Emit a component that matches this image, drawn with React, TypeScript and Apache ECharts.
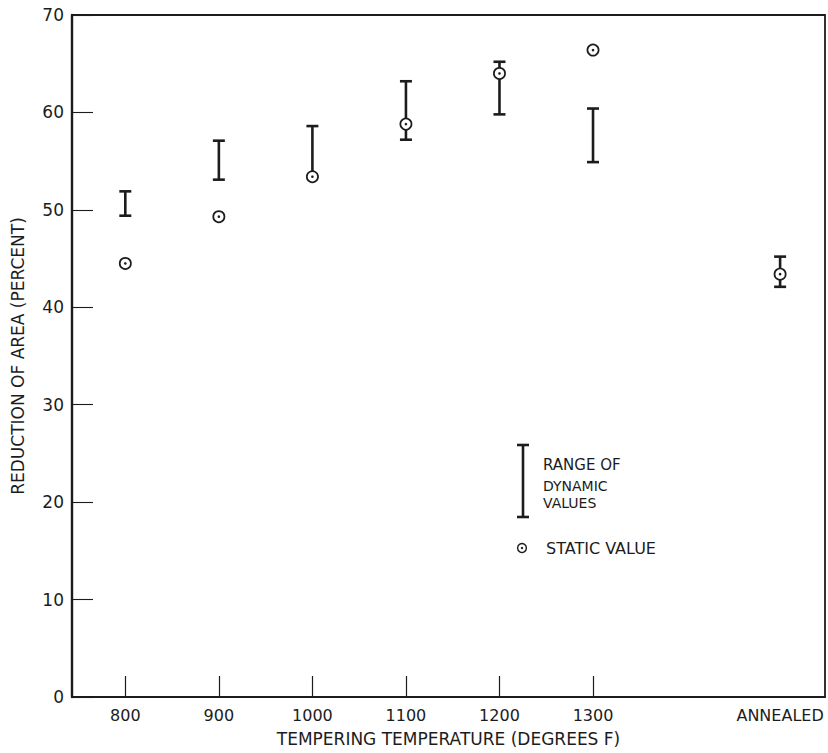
import React, { useEffect, useRef } from "react";
import * as echarts from "echarts";

// Data
const temperatures = [800, 900, 1000, 1100, 1200, 1300, 1500];
const categoryLabels = ["800", "900", "1000", "1100", "1200", "1300", "ANNEALED"];
const dynamicLow = [49.4, 53.1, 53.4, 57.2, 59.8, 54.9, 42.1];
const dynamicHigh = [51.9, 57.1, 58.6, 63.2, 65.2, 60.4, 45.2];
const staticValue = [44.5, 49.3, 53.4, 58.8, 64.0, 66.4, 43.4];
const tickTemperatures = [800, 900, 1000, 1100, 1200, 1300];

const INK = "#1c1c1c";
const FONT = "DejaVu Sans";

export default function App() {
  const ref = useRef<HTMLDivElement>(null);

  useEffect(() => {
    if (!ref.current) return;
    const chart = echarts.init(ref.current, null, { renderer: "svg" });

    const rangeData = temperatures.map((t, i) => [t, dynamicLow[i], dynamicHigh[i]]);
    const staticData = temperatures.map((t, i) => [t, staticValue[i]]);

    const legendText = (text: string, x: number, y: number, size: number) => ({
      type: "text",
      x,
      y,
      style: {
        text,
        font: `${size}px "${FONT}"`,
        fill: INK,
        align: "left",
        verticalAlign: "middle",
        textVerticalAlign: "middle",
      },
    });

    const option: any = {
      animation: false,
      backgroundColor: "#ffffff",
      grid: {
        left: 72,
        right: 3,
        top: 15,
        bottom: 56,
        show: true,
        borderColor: INK,
        borderWidth: 1.8,
        backgroundColor: "transparent",
      },
      xAxis: {
        type: "value",
        min: 743,
        max: 1548,
        name: "TEMPERING TEMPERATURE (DEGREES F)",
        nameLocation: "middle",
        nameGap: 33,
        nameTextStyle: { fontFamily: FONT, fontSize: 17, color: INK },
        axisLine: { show: true, onZero: false, lineStyle: { color: INK, width: 2.2 } },
        axisTick: {
          show: true,
          inside: true,
          length: 21,
          customValues: tickTemperatures,
          lineStyle: { color: INK, width: 1.2 },
        },
        axisLabel: {
          show: true,
          customValues: temperatures,
          margin: 10,
          fontFamily: FONT,
          fontSize: 16,
          color: INK,
          formatter: (v: number) => {
            const idx = temperatures.indexOf(v);
            return idx >= 0 ? categoryLabels[idx] : "";
          },
        },
        splitLine: { show: false },
      },
      yAxis: {
        type: "value",
        min: 0,
        max: 70,
        interval: 10,
        name: "REDUCTION OF AREA (PERCENT)",
        nameLocation: "middle",
        nameGap: 46,
        nameTextStyle: { fontFamily: FONT, fontSize: 17, color: INK },
        axisLine: { show: true, lineStyle: { color: INK, width: 2.4 } },
        axisTick: { show: true, inside: true, length: 21, lineStyle: { color: INK, width: 1.1 } },
        axisLabel: { margin: 8, fontFamily: FONT, fontSize: 17, color: INK },
        splitLine: { show: false },
      },
      series: [
        {
          type: "custom",
          name: "Range of dynamic values",
          data: rangeData,
          encode: { x: 0, y: [1, 2] },
          z: 3,
          renderItem: (params: any, api: any) => {
            const lo = api.coord([api.value(0), api.value(1)]);
            const hi = api.coord([api.value(0), api.value(2)]);
            const w = 6;
            const st = { stroke: INK, lineWidth: 2.6 };
            return {
              type: "group",
              children: [
                { type: "line", shape: { x1: lo[0], y1: lo[1], x2: hi[0], y2: hi[1] }, style: st },
                { type: "line", shape: { x1: hi[0] - w, y1: hi[1], x2: hi[0] + w, y2: hi[1] }, style: st },
                { type: "line", shape: { x1: lo[0] - w, y1: lo[1], x2: lo[0] + w, y2: lo[1] }, style: st },
              ],
            };
          },
        },
        {
          type: "custom",
          name: "Static value",
          data: staticData,
          encode: { x: 0, y: 1 },
          z: 4,
          renderItem: (params: any, api: any) => {
            const p = api.coord([api.value(0), api.value(1)]);
            return {
              type: "group",
              children: [
                {
                  type: "circle",
                  shape: { cx: p[0], cy: p[1], r: 5.6 },
                  style: { fill: "#ffffff", stroke: INK, lineWidth: 1.7 },
                },
                {
                  type: "circle",
                  shape: { cx: p[0], cy: p[1], r: 1.3 },
                  style: { fill: INK },
                },
              ],
            };
          },
        },
      ],
      graphic: [
        // legend: range bar
        { type: "line", shape: { x1: 523, y1: 445, x2: 523, y2: 517 }, style: { stroke: INK, lineWidth: 2.6 } },
        { type: "line", shape: { x1: 517, y1: 445, x2: 529, y2: 445 }, style: { stroke: INK, lineWidth: 2.6 } },
        { type: "line", shape: { x1: 517, y1: 517, x2: 529, y2: 517 }, style: { stroke: INK, lineWidth: 2.6 } },
        legendText("RANGE OF", 543, 465, 15),
        legendText("DYNAMIC", 543, 486, 14),
        legendText("VALUES", 543, 503, 14),
        // legend: static value
        { type: "circle", shape: { cx: 522, cy: 548, r: 4.4 }, style: { fill: "#fff", stroke: INK, lineWidth: 1.4 } },
        { type: "circle", shape: { cx: 522, cy: 548, r: 1.2 }, style: { fill: INK } },
        legendText("STATIC VALUE", 546, 548, 16),
      ],
    };

    chart.setOption(option);
    return () => chart.dispose();
  }, []);

  return (
    <div
      ref={ref}
      style={{ position: "fixed", left: 0, top: 0, width: 828, height: 753, background: "#fff" }}
    />
  );
}
